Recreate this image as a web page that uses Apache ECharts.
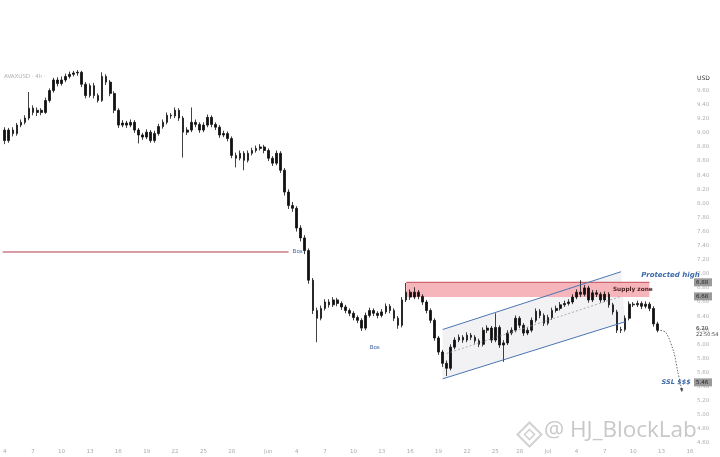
<!DOCTYPE html>
<html><head><meta charset="utf-8">
<script src="https://cdn.jsdelivr.net/npm/echarts@6/dist/echarts.min.js"></script>
<style>html,body{margin:0;padding:0;background:#fff}#c{width:720px;height:457px}</style>
</head><body><div id="c"></div>
<script>
// ---- data ----
const opens = [9.04,8.89,9.04,8.99,9.11,9.15,9.21,9.35,9.29,9.32,
 9.29,9.46,9.60,9.75,9.70,9.75,9.80,9.83,9.85,9.86,
 9.69,9.53,9.67,9.53,9.46,9.80,9.72,9.56,9.32,9.11,
 9.14,9.11,9.15,9.04,8.97,8.94,9.01,8.89,8.99,9.09,
 9.15,9.25,9.24,9.32,9.21,9.01,9.04,9.15,9.12,9.04,
 9.11,9.22,9.12,9.08,8.97,8.99,8.92,8.68,8.64,8.71,
 8.61,8.71,8.75,8.78,8.80,8.75,8.64,8.57,8.71,8.47,
 8.16,7.97,7.93,7.65,7.51,7.33,6.91,6.48,6.37,6.51,
 6.60,6.56,6.63,6.58,6.53,6.48,6.44,6.38,6.34,6.23,
 6.41,6.48,6.44,6.41,6.46,6.54,6.48,6.37,6.27,6.63,
 6.74,6.67,6.74,6.68,6.60,6.48,6.34,6.09,5.89,5.73,
 5.66,5.96,6.06,6.10,6.06,6.13,6.10,6.05,6.00,6.20,
 6.23,6.06,6.24,5.99,6.02,6.16,6.20,6.37,6.27,6.16,
 6.20,6.34,6.47,6.41,6.30,6.38,6.48,6.51,6.56,6.58,
 6.60,6.67,6.74,6.71,6.80,6.63,6.73,6.71,6.63,6.71,
 6.56,6.46,6.20,6.21,6.37,6.57,6.56,6.58,6.54,6.57,
 6.51,6.29];
const closes = [8.89,9.04,8.99,9.11,9.15,9.21,9.35,9.29,9.32,9.29,
 9.46,9.60,9.75,9.70,9.75,9.80,9.83,9.85,9.86,9.69,
 9.53,9.67,9.53,9.46,9.80,9.72,9.56,9.32,9.11,9.14,
 9.11,9.15,9.04,8.97,8.94,9.01,8.89,8.99,9.09,9.15,
 9.25,9.24,9.32,9.21,9.01,9.04,9.15,9.12,9.04,9.11,
 9.22,9.12,9.08,8.97,8.99,8.92,8.68,8.64,8.71,8.61,
 8.71,8.75,8.78,8.80,8.75,8.64,8.57,8.71,8.47,8.16,
 7.97,7.93,7.65,7.51,7.33,6.91,6.48,6.37,6.51,6.60,
 6.56,6.63,6.58,6.53,6.48,6.44,6.38,6.34,6.23,6.41,
 6.48,6.44,6.41,6.46,6.54,6.48,6.37,6.27,6.63,6.74,
 6.67,6.74,6.68,6.60,6.48,6.34,6.09,5.89,5.73,5.66,
 5.96,6.06,6.10,6.06,6.13,6.10,6.05,6.00,6.20,6.23,
 6.06,6.24,5.99,6.02,6.16,6.20,6.37,6.27,6.16,6.20,
 6.34,6.47,6.41,6.30,6.38,6.48,6.51,6.56,6.58,6.60,
 6.67,6.74,6.71,6.80,6.63,6.73,6.71,6.63,6.71,6.56,
 6.46,6.20,6.21,6.37,6.57,6.56,6.58,6.54,6.57,6.51,
 6.29,6.20];
const highs = [9.08,9.07,9.08,9.14,9.19,9.25,9.58,9.39,9.36,9.35,
 9.50,9.63,9.78,9.79,9.80,9.84,9.87,9.88,9.89,9.88,
 9.72,9.70,9.71,9.56,9.86,9.83,9.75,9.59,9.35,9.18,
 9.17,9.19,9.18,9.07,9.00,9.05,9.04,9.03,9.13,9.19,
 9.29,9.28,9.36,9.35,9.24,9.08,9.36,9.19,9.15,9.15,
 9.26,9.25,9.15,9.11,9.03,9.02,8.95,8.72,8.75,8.74,
 8.75,8.79,8.82,8.84,8.83,8.78,8.67,8.75,8.74,8.50,
 8.20,8.02,7.96,7.69,7.55,7.36,6.94,6.52,6.55,6.64,
 6.64,6.67,6.66,6.61,6.56,6.51,6.47,6.41,6.37,6.45,
 6.52,6.51,6.47,6.50,6.58,6.57,6.51,6.40,6.67,6.87,
 6.78,6.81,6.77,6.71,6.63,6.51,6.37,6.12,5.92,5.77,
 6.00,6.10,6.14,6.13,6.17,6.16,6.13,6.08,6.24,6.27,
 6.26,6.44,6.27,6.06,6.20,6.24,6.41,6.40,6.30,6.24,
 6.38,6.51,6.50,6.44,6.42,6.52,6.55,6.60,6.62,6.64,
 6.71,6.78,6.91,6.84,6.83,6.77,6.77,6.74,6.75,6.74,
 6.59,6.49,6.25,6.41,6.61,6.60,6.62,6.61,6.61,6.60,
 6.54,6.32];
const lows = [8.84,8.86,8.95,8.96,9.08,9.12,9.18,9.25,9.24,9.25,
 9.27,9.43,9.57,9.66,9.67,9.72,9.77,9.80,9.81,9.65,
 9.49,9.50,9.49,9.43,9.44,9.68,9.52,9.28,9.07,9.08,
 9.07,9.08,9.00,8.85,8.90,8.91,8.86,8.86,8.96,9.06,
 9.12,9.20,9.21,9.17,8.65,8.97,9.01,9.08,9.00,9.01,
 9.08,9.08,9.04,8.93,8.94,8.88,8.64,8.51,8.61,8.47,
 8.58,8.68,8.72,8.75,8.71,8.60,8.53,8.54,8.43,8.11,
 7.92,7.88,7.60,7.46,7.28,6.86,6.43,6.03,6.34,6.48,
 6.52,6.53,6.54,6.49,6.44,6.40,6.34,6.30,6.19,6.20,
 6.38,6.40,6.37,6.38,6.43,6.44,6.33,6.22,6.24,6.60,
 6.63,6.64,6.64,6.56,6.44,6.30,6.05,5.85,5.68,5.55,
 5.63,5.93,6.03,6.02,6.03,6.06,6.01,5.96,5.97,6.16,
 6.02,6.03,5.95,5.75,5.99,6.13,6.17,6.23,6.12,6.13,
 6.17,6.31,6.37,6.26,6.27,6.35,6.45,6.48,6.53,6.55,
 6.57,6.64,6.67,6.68,6.59,6.60,6.67,6.59,6.60,6.52,
 6.42,6.16,6.16,6.18,6.34,6.53,6.53,6.50,6.51,6.47,
 6.25,6.17];
const categoryCount = 170;
const tickIndex = [0,7,14,21,28,35,42,49,56,65,72,79,86,93,100,107,114,121,127,134,141,148,155,162,169];
const tickLabels = ['4','7','10','13','16','19','22','25','28','Jun','4','7','10','13','16','19','22','25','28','Jul','4','7','10','13','16'];
// annotations (data coordinates: [category index, price])
const supplyZoneX = [98.5, 159.2];
const supplyZoneY = [6.67, 6.88];
const channelUpper = [[108, 6.21], [152, 7.03]];
const channelLower = [[108, 5.51], [153, 6.32]];
const channelMid = [[109, 5.87], [152, 6.68]];
const bosLine = [[0, 7.31], [70.3, 7.31]];
const projection = [[161.4, 6.20], [162.9, 6.17], [164.6, 5.89], [166.1, 5.61], [167.3, 5.35]];
const textNotes = [
  {t: 'Bos', at: [71.0, 7.31], size: 5.5, color: '#3b5fa6', style: 'normal', weight: 'normal'},
  {t: 'Bos', at: [90.4, 5.96], size: 5.5, color: '#3b5fa6', style: 'normal', weight: 'normal'},
  {t: 'Protected high', at: [157.0, 6.98], size: 7, color: '#3d6aa8', style: 'italic', weight: 'bold'},
  {t: 'Supply zone', at: [150.4, 6.775], size: 5.8, color: '#4a2020', style: 'normal', weight: 'bold'},
  {t: 'SSL $$$', at: [162.2, 5.46], size: 6.5, color: '#3d6aa8', style: 'italic', weight: 'bold'}
];
const axisMarks = [6.88, 6.68, 5.46];

const categories = Array.from({length: categoryCount}, (_, i) => String(i));
const candleData = opens.map((o, i) => [o, closes[i], lows[i], highs[i]]);

const chart = echarts.init(document.getElementById('c'), null, {renderer: 'canvas'});

function fills(params, api) {
  const p = v => api.coord(v);
  const z1 = p([supplyZoneX[0], supplyZoneY[1]]), z2 = p([supplyZoneX[1], supplyZoneY[0]]);
  return {type: 'group', children: [
    {type: 'polygon', shape: {points: [p(channelUpper[0]), p(channelUpper[1]), p(channelLower[1]), p(channelLower[0])]},
     style: {fill: '#f2f2f5'}},
    {type: 'rect', shape: {x: z1[0], y: z1[1], width: z2[0] - z1[0], height: z2[1] - z1[1]}, style: {fill: '#f6b5bb'}},
    {type: 'line', shape: {x1: z1[0], y1: z1[1], x2: z2[0], y2: z1[1]}, style: {stroke: '#c24b57', lineWidth: 1}}
  ]};
}
function overlays(params, api) {
  const p = v => api.coord(v);
  const cs = params.coordSys;
  const rightX = cs.x + cs.width + 4;
  const ch = [];
  const seg = (a, b, style, fromEdge) => { const A = p(a), B = p(b); ch.push({type: 'line', shape: {x1: fromEdge ? cs.x : A[0], y1: A[1], x2: B[0], y2: B[1]}, style}); };
  seg(channelUpper[0], channelUpper[1], {stroke: '#4a76b2', lineWidth: 1});
  seg(channelLower[0], channelLower[1], {stroke: '#4a76b2', lineWidth: 1});
  seg(channelMid[0], channelMid[1], {stroke: '#9a9a9a', lineWidth: 0.8, lineDash: [2, 2]});
  seg(bosLine[0], bosLine[1], {stroke: '#b03a48', lineWidth: 1}, true);
  ch.push({type: 'polyline', shape: {points: projection.map(p), smooth: 0.3}, style: {stroke: '#444', lineWidth: 0.8, lineDash: [1.5, 1.5], fill: null}});
  const end = p(projection[projection.length - 1]);
  ch.push({type: 'polygon', shape: {points: [[end[0], end[1] + 2], [end[0] - 2, end[1] - 2], [end[0] + 1.5, end[1] - 2]]}, style: {fill: '#444'}});
  textNotes.forEach(n => {
    const q = p(n.at);
    ch.push({type: 'text', x: q[0], y: q[1], style: {text: n.t, fill: n.color, fontSize: n.size, fontStyle: n.style, fontWeight: n.weight,
      fontFamily: 'DejaVu Sans, sans-serif', align: 'left', verticalAlign: 'middle'}});
  });
  axisMarks.forEach(v => {
    const q = p([0, v]);
    ch.push({type: 'rect', shape: {x: rightX - 2, y: q[1] - 4, width: 18, height: 8}, style: {fill: '#9a9a9a'}});
    ch.push({type: 'text', x: rightX, y: q[1], style: {text: v.toFixed(2), fill: '#222', fontSize: 5.5, fontFamily: 'DejaVu Sans', verticalAlign: 'middle'}});
  });
  const last = closes[closes.length - 1];
  const lq = p([0, last]);
  ch.push({type: 'text', x: rightX, y: lq[1] - 2, style: {text: last.toFixed(2), fill: '#222', fontSize: 5.5, fontFamily: 'DejaVu Sans', verticalAlign: 'middle'}});
  ch.push({type: 'text', x: rightX, y: lq[1] + 4, style: {text: '22:50:54', fill: '#444', fontSize: 5, fontFamily: 'DejaVu Sans', verticalAlign: 'middle'}});
  return {type: 'group', children: ch};
}

chart.setOption({
  animation: false,
  backgroundColor: '#fff',
  grid: {left: 0, right: 28, top: 6, bottom: 14},
  xAxis: {
    type: 'category', data: categories, boundaryGap: true,
    axisLine: {show: false}, axisTick: {show: false}, splitLine: {show: false},
    axisLabel: {
      interval: (idx) => tickIndex.includes(idx),
      formatter: (v, idx) => { const k = tickIndex.indexOf(Number(v)); return k >= 0 ? tickLabels[k] : ''; },
      color: '#aaa', fontSize: 5.5, margin: 6, fontFamily: 'DejaVu Sans'
    }
  },
  yAxis: {
    type: 'value', position: 'right', min: 4.6, max: 10.8, interval: 0.2, scale: true,
    axisLine: {show: false}, axisTick: {show: false}, splitLine: {show: false},
    axisLabel: {formatter: v => v > 9.65 ? '' : v.toFixed(2), color: '#b0b0b0', fontSize: 5.5, margin: 5, align: 'left', fontFamily: 'DejaVu Sans'}
  },
  series: [
    {type: 'custom', renderItem: fills, data: [[0, 6]], z: 1, silent: true},
    {type: 'candlestick', data: candleData, barWidth: 2.2, z: 2,
     itemStyle: {color: '#111', color0: '#111', borderColor: '#111', borderColor0: '#111', borderWidth: 0.8}},
    {type: 'custom', renderItem: overlays, data: [[0, 6]], z: 3, silent: true}
  ],
  graphic: [
    {type: 'text', left: 4, top: 74, style: {text: 'AVAXUSD · 4h ·', fill: '#b0b0b0', fontSize: 5.5, fontFamily: 'DejaVu Sans'}},
    {type: 'text', left: 697, top: 75, style: {text: 'USD', fill: '#333', fontSize: 6, fontFamily: 'DejaVu Sans'}},
    {type: 'group', left: 515, top: 420, children: [
      {type: 'polygon', shape: {points: [[12, 0], [24, 12], [12, 24], [0, 12]]}, style: {fill: null, stroke: '#d2d2d2', lineWidth: 2}},
      {type: 'polygon', shape: {points: [[12, 7], [17, 12], [12, 17], [7, 12]]}, style: {fill: null, stroke: '#d2d2d2', lineWidth: 1.6}}
    ]},
    {type: 'text', left: 544, top: 419, style: {text: '@ HJ_BlockLab', fill: '#c8c8c8', fontSize: 22.5, fontFamily: 'Open Sans, Noto Sans, sans-serif'}}
  ]
});
</script></body></html>
